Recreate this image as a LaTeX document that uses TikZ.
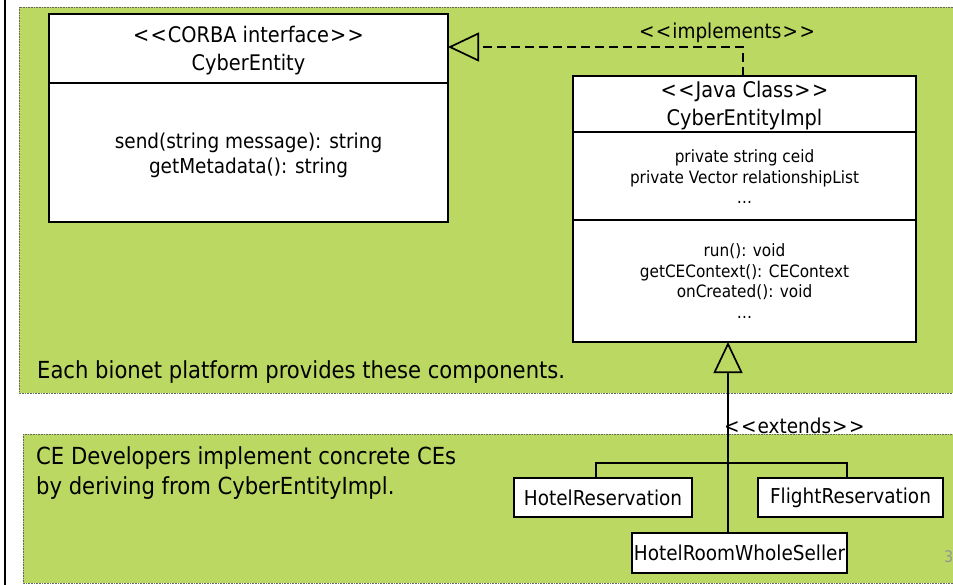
\documentclass[tikz,border=0pt]{standalone}
\usepackage{fontspec}
\setmainfont{DejaVu Sans Condensed}
\usetikzlibrary{arrows.meta}
\definecolor{panelgreen}{RGB}{186,216,98}
\definecolor{pagegray}{RGB}{150,150,150}
\newcommand{\stereo}[1]{<\kern1.5pt<\kern1pt#1\kern1pt>\kern1.5pt>}
\begin{document}
\begin{tikzpicture}[x=1pt,y=-1pt,
  panel/.style={fill=panelgreen,draw=black!60,densely dotted,line width=0.6pt},
  umlbox/.style={draw=black,fill=white,line width=1.7pt,inner sep=0pt},
  divider/.style={draw=black,line width=1.7pt},
  head/.style={font=\fontsize{21.5}{28}\selectfont,align=center,inner sep=0pt},
  lbl/.style={font=\fontsize{20.5}{24}\selectfont,inner sep=0pt},
  member/.style={font=\fontsize{17}{20.5}\selectfont,align=center,inner sep=0pt},
  op/.style={font=\fontsize{20.5}{25}\selectfont,align=center,inner sep=0pt},
  note/.style={font=\fontsize{23.5}{30}\selectfont,align=left,inner sep=0pt,anchor=west},
  sub/.style={draw=black,fill=white,line width=1.7pt,font=\fontsize{20.5}{22}\selectfont,inner sep=0pt},
  conn/.style={draw=black,line width=1.7pt},
  gen/.style={-{Triangle[open,length=31pt,width=29pt,line width=1.7pt]}}
]
\useasboundingbox (0,0) rectangle (953,584);
\fill[white] (0,0) rectangle (953,584);

% two shaded panels
\path[panel] (19,7) rectangle (960,393);
\path[panel] (23,434) rectangle (960,583);

% slide edge
\draw[line width=2pt] (5,-2) -- (5,590);

% interface CyberEntity
\node[umlbox,minimum width=399pt,minimum height=208pt] (ce) at (248.5,118) {};
\draw[divider] (ce.west |- 0,83) -- (ce.east |- 0,83);
\node[head] (ceh) at (248.5,51) {\stereo{CORBA interface}\\CyberEntity};
\node[op] (ceops) at (248.5,155) {send(string message): string\\getMetadata(): string};

% class CyberEntityImpl
\node[umlbox,minimum width=343pt,minimum height=266pt] (impl) at (744.5,209) {};
\draw[divider] (impl.west |- 0,132) -- (impl.east |- 0,132);
\draw[divider] (impl.west |- 0,220) -- (impl.east |- 0,220);
\node[head] (implh) at (744.5,105.5) {\stereo{Java Class}\\CyberEntityImpl};
\node[member] (implattr) at (744.5,177) {private string ceid\\private Vector relationshipList\\\ldots};
\node[member] (implops) at (744.5,281) {run(): void\\getCEContext(): CEContext\\onCreated(): void\\\ldots};

% realization arrow
\coordinate (ceport) at (448,47);
\coordinate (implport) at (743,76);
\draw[conn,dashed,dash pattern=on 9pt off 5pt,gen] (implport) |- (ceport);
\node[lbl,anchor=south] (implabel) at (727,43) {\stereo{implements}};

% notes
\node[note] (note1) at (37,372) {Each bionet platform provides these components.};
\node[note] (note2) at (36,473.5) {CE Developers implement concrete CEs\\by deriving from CyberEntityImpl.};

% concrete subclasses
\node[sub,minimum width=178pt,minimum height=39pt] (hotel) at (603,497.5) {HotelReservation};
\node[sub,minimum width=185pt,minimum height=39pt] (flight) at (850.5,497.5) {FlightReservation};
\node[sub,minimum width=215pt,minimum height=40pt] (whole) at (739.5,553) {HotelRoomWholeSeller};

% generalization tree
\coordinate (implbase) at (728,342);
\coordinate (fork) at (728,463);
\draw[conn,gen] (whole.north -| implbase) -- (implbase);
\draw[conn] (hotel.north -| 596,0) |- (fork) -| (flight.north -| 847,0);
\node[lbl,anchor=west] (extlabel) at (724,426) {\stereo{extends}};

% page number
\node[font=\fontsize{16}{18}\selectfont,text=pagegray,anchor=west,inner sep=0pt] (pgno) at (944,557) {3};
\end{tikzpicture}
\end{document}
